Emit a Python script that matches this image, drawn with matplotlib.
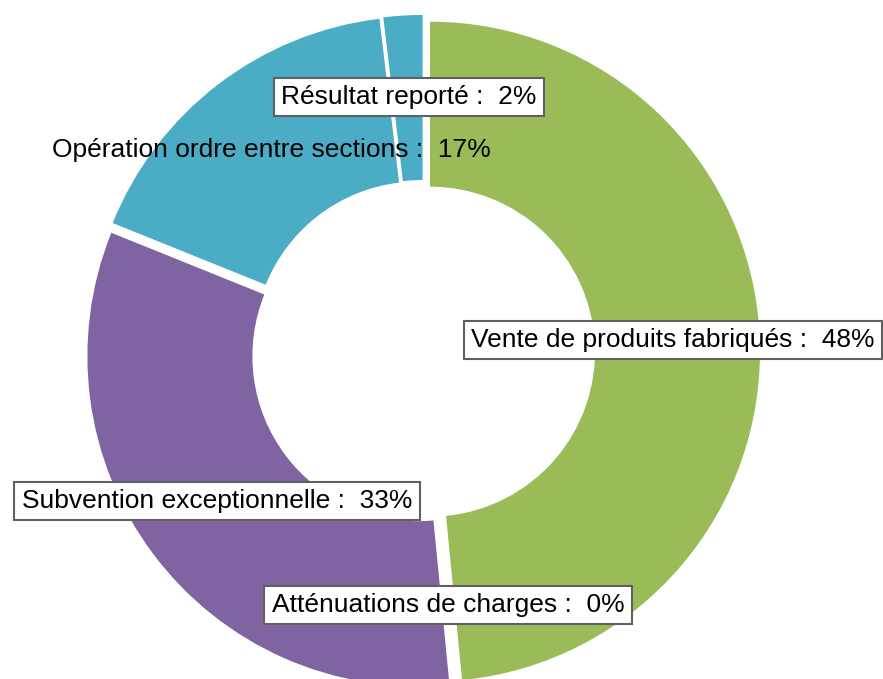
import matplotlib.pyplot as plt

plt.rcParams['font.family'] = ['Liberation Sans', 'DejaVu Sans']

labels = ['Vente de produits fabriqués', 'Atténuations de charges',
          'Subvention exceptionnelle', 'Opération ordre entre sections',
          'Résultat reporté']
values = [48.45, 0.0, 32.65, 17.0, 1.9]
shown_pct = [48, 0, 33, 17, 2]
colors = ['#9BBB59', '#F79646', '#8064A2', '#4BACC6', '#4BACC6']

# label centres in pixel coords (x, y from top) and whether boxed
label_pos = [(673, 340), (448, 605), (217, 501), (271, 150), (409, 97)]
boxed = [True, True, True, False, True]

W, H = 883, 679
fig = plt.figure(figsize=(W / 100, H / 100), dpi=100)
ax = fig.add_axes([0, 0, 1, 1])

r = 330
# explode is in data units here (pixels)
ax.pie(values, colors=colors, startangle=90, counterclock=False,
       radius=r, center=(423, H - 352),
       explode=[7] * len(values),
       wedgeprops=dict(width=165, linewidth=0),
       frame=True)

for lab, p, (x, y), b in zip(labels, shown_pct, label_pos, boxed):
    txt = f'{lab} :  {p}%'
    kw = {}
    if b:
        kw['bbox'] = dict(boxstyle='square,pad=0.28', facecolor='white',
                          edgecolor='#606060', linewidth=1.5)
    ax.text(x, H - y, txt, ha='center', va='center', fontsize=19,
            color='black', **kw)

ax.set_xlim(0, W)
ax.set_ylim(0, H)
ax.set_aspect('equal')
ax.axis('off')

fig.savefig('out.png', dpi=100)
